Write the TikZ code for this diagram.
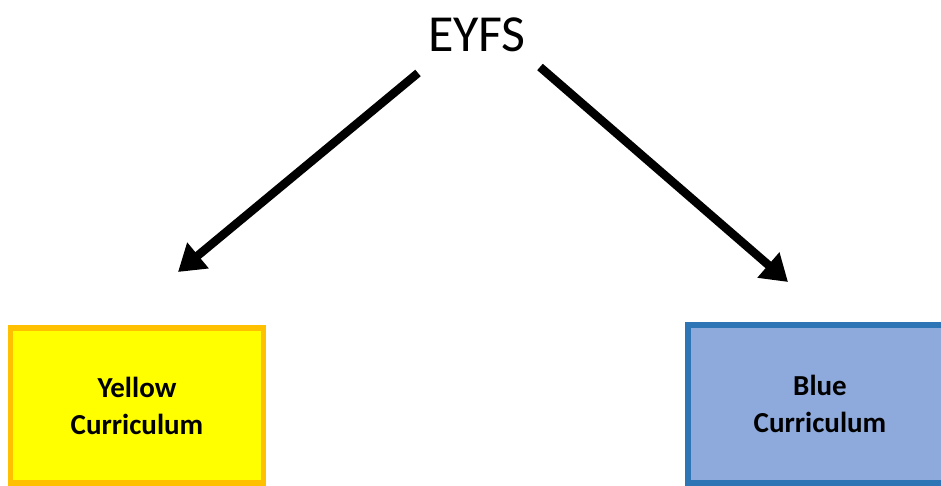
\documentclass[tikz,border=0pt]{standalone}
\usepackage{fontspec}
\setmainfont{Carlito}
\usetikzlibrary{arrows.meta}
\definecolor{yfill}{HTML}{FFFF00}
\definecolor{yline}{HTML}{FFC000}
\definecolor{bfill}{HTML}{8EA9DB}
\definecolor{bline}{HTML}{2E75B6}
\begin{document}
\begin{tikzpicture}[x=1pt,y=1pt,
  currbox/.style={line width=5.5pt, minimum width=253pt, minimum height=155pt,
    align=center, inner sep=0pt,
    font=\fontsize{29}{37}\selectfont\bfseries},
  bigarrow/.style={line width=8.5pt, -{Triangle[length=26pt,width=32pt]}}]
  \useasboundingbox (0,0) rectangle (941,486);
  \clip (0,0) rectangle (941,486);
  % heading
  \node[font=\fontsize{52}{60}\selectfont, inner sep=0pt] (eyfs) at (477,451) {EYFS};
  % the two curriculum boxes
  \node[currbox, draw=yline, fill=yfill] (yellow) at (137,80.5) {Yellow\\Curriculum};
  \node[currbox, draw=bline, fill=bfill, minimum width=264pt, minimum height=158pt] (blue) at (820,82) {Blue\\Curriculum};
  % arrow endpoints
  \coordinate (lstart) at (418,413);
  \coordinate (ltip) at (178,214);
  \coordinate (rstart) at (540,419);
  \coordinate (rtip) at (788,204);
  \draw[bigarrow] (lstart) -- (ltip);
  \draw[bigarrow] (rstart) -- (rtip);
\end{tikzpicture}
\end{document}
